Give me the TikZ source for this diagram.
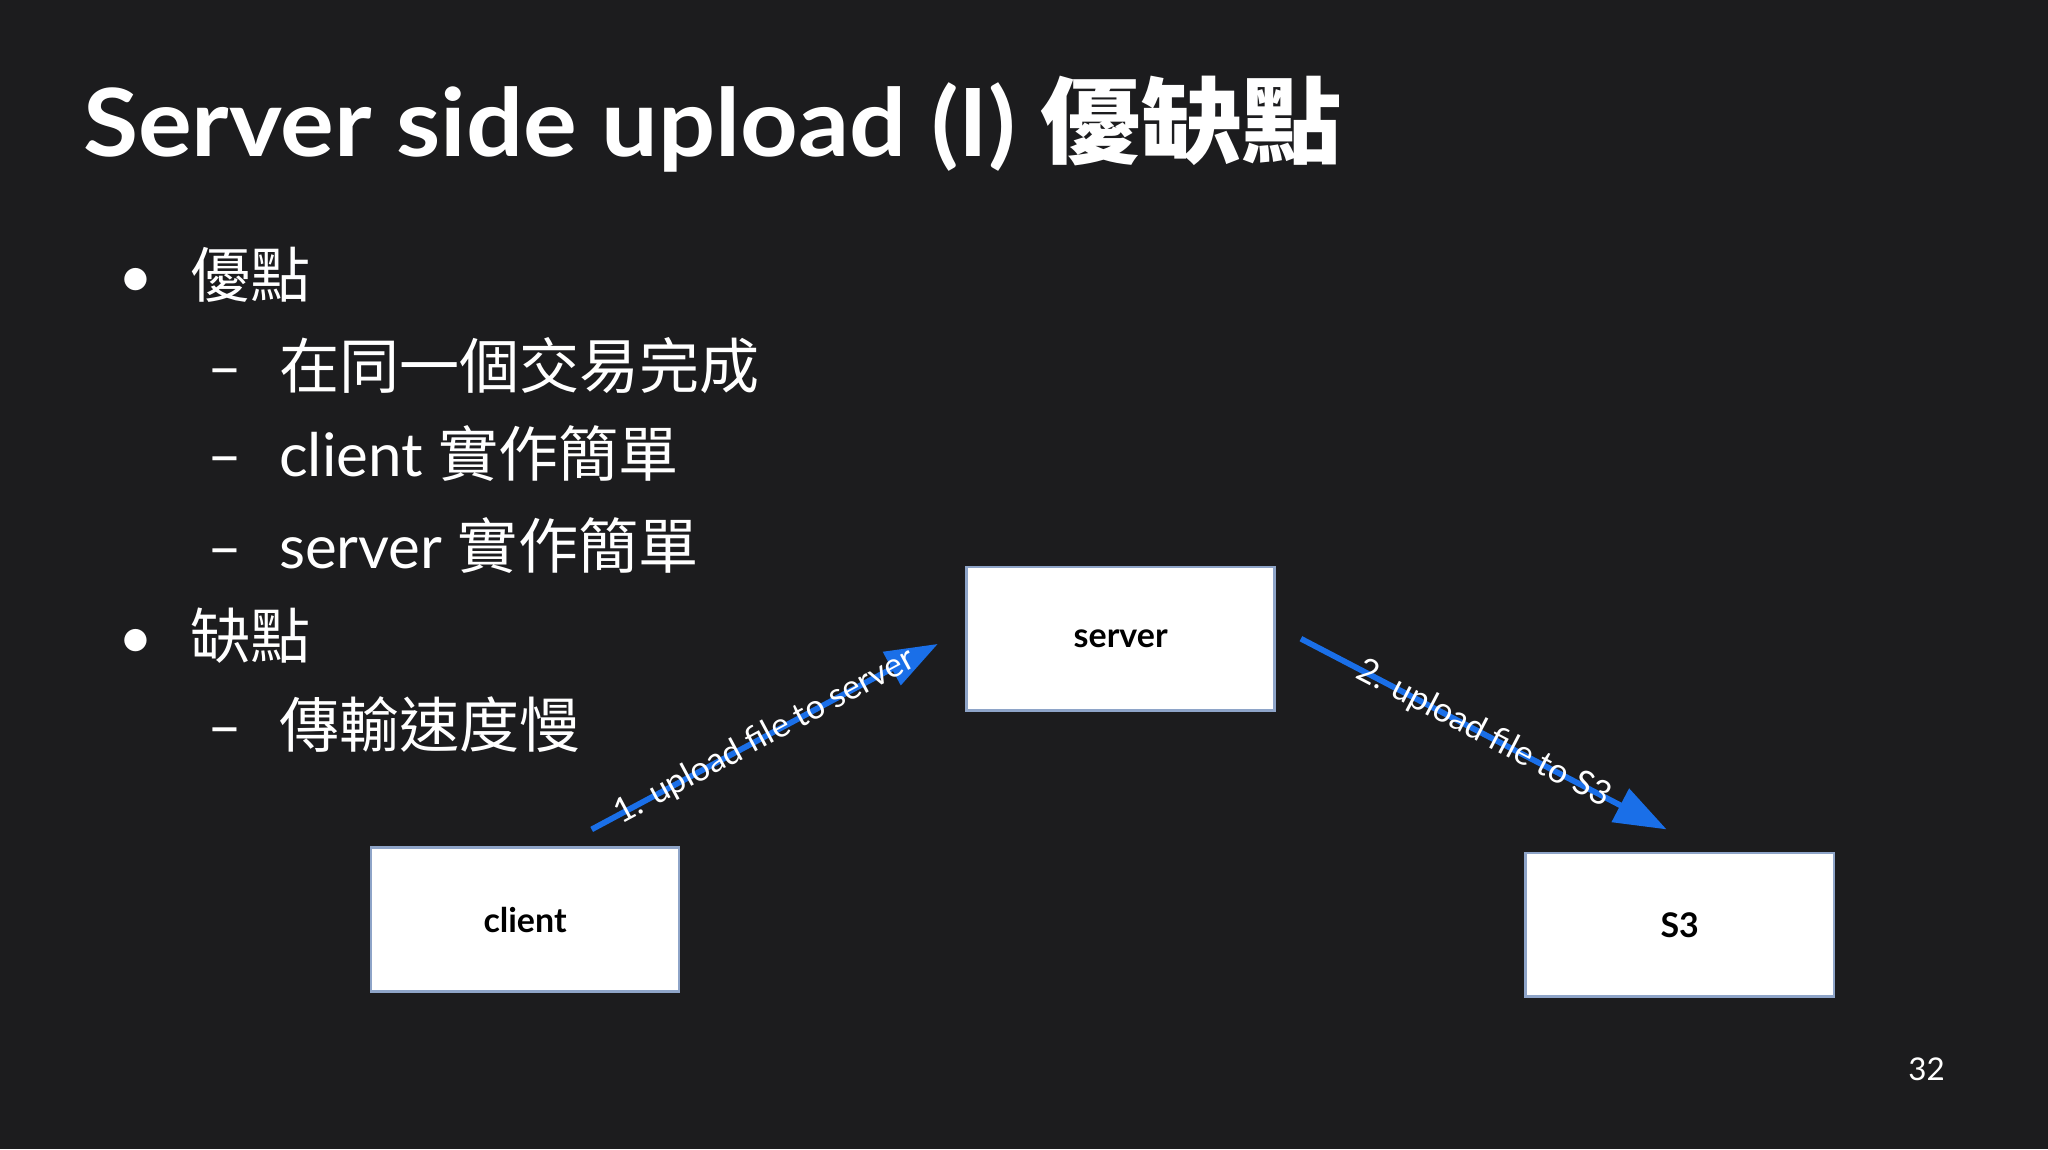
\documentclass[tikz,border=0pt]{standalone}
\usepackage{fontspec}
\setmainfont{Lato}
\newfontfamily\cjk{Noto Sans CJK TC}
\usetikzlibrary{arrows.meta}
\definecolor{bg}{HTML}{1C1C1E}
\definecolor{arr}{HTML}{1A6FE8}
\definecolor{boxline}{HTML}{8EA4C8}
\tikzset{
  box/.style={draw=boxline, line width=1pt, fill=white, minimum width=118pt, minimum height=55pt, font=\fontsize{13}{15}\selectfont\bfseries, text=black},
  flow/.style={draw=arr, line width=2.2pt, -{Triangle[length=20pt,width=14pt]}},
  lbl/.style={sloped, text=white, font=\fontsize{13}{15}\selectfont},
  bul/.style={anchor=west, text=white, font=\fontsize{23}{28}\selectfont}
}
\begin{document}
\begin{tikzpicture}[x=0.5pt,y=-0.5pt]
\fill[bg] (0,0) rectangle (1568,880);
\useasboundingbox (0,0) rectangle (1568,880);
\node[anchor=west, text=white, font=\fontsize{36}{40}\selectfont\bfseries, xscale=1.07] (title) at (56,95) {Server side upload (I) {\cjk 優缺點}};
\node[bul] (b1) at (84,210) {•\hspace{14pt}{\cjk 優點}};
\node[bul] (s1) at (152,280) {–\hspace{14pt}{\cjk 在同一個交易完成}};
\node[bul] (s2) at (152,347) {–\hspace{14pt}client {\cjk 實作簡單}};
\node[bul] (s3) at (152,418) {–\hspace{14pt}server {\cjk 實作簡單}};
\node[bul] (b2) at (84,487) {•\hspace{14pt}{\cjk 缺點}};
\node[bul] (s4) at (152,555) {–\hspace{14pt}{\cjk 傳輸速度慢}};
\node[box] (server) at (858,489) {server};
\node[box] (client) at (402,704) {client};
\node[box] (s3b) at (1286,708) {S3};
\coordinate (a1s) at (453,635);
\coordinate (a1e) at (718,493);
\coordinate (a2s) at (996,489);
\coordinate (a2e) at (1276,635);
\draw[flow] (a1s) -- node[lbl] {1. upload file to server} (a1e);
\draw[flow] (a2s) -- node[lbl] {2. upload file to S3} (a2e);
\node[text=white, font=\fontsize{12}{14}\selectfont] (pg) at (1475,819) {32};
\end{tikzpicture}
\end{document}
